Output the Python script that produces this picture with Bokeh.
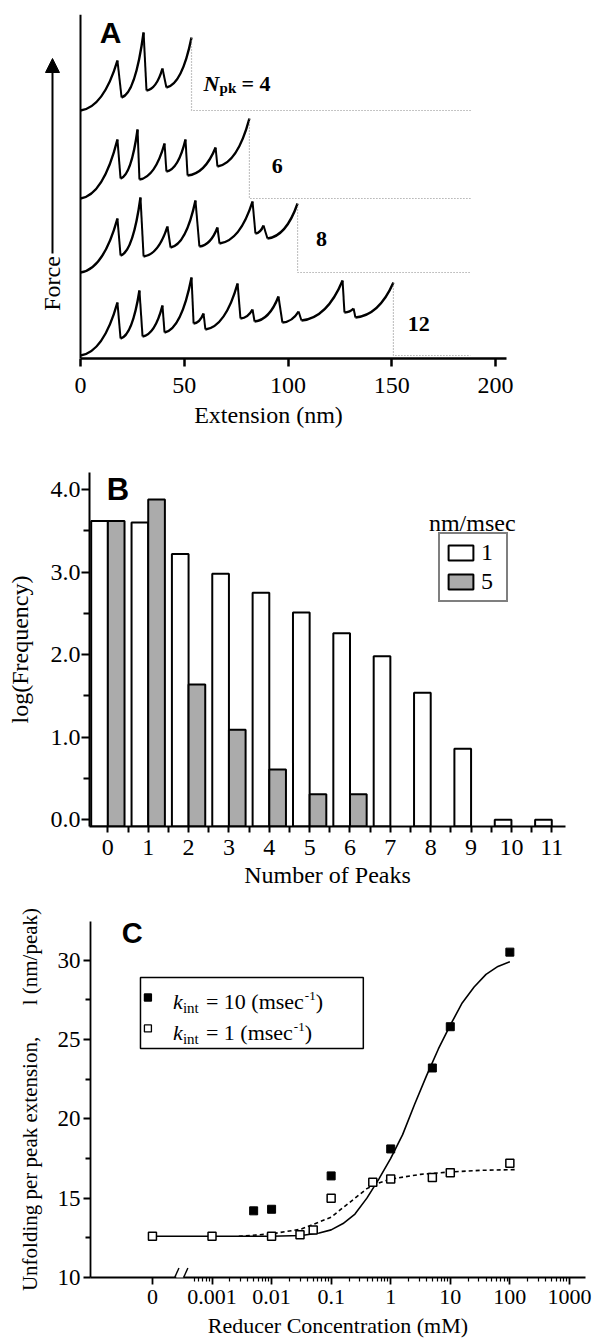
import math
from bokeh.plotting import figure
from bokeh.models import (Range1d, FixedTicker, NumeralTickFormatter, Arrow, Span,
                          NormalHead, BoxAnnotation, Legend, LegendItem)
from bokeh.core.properties import value
from bokeh.embed import file_html
from bokeh.resources import INLINE

# ---------------- Panel A data: force-extension traces ----------------
EXT_TICKS = [0, 50, 100, 150, 200]
NPK_LABELS = ["4", "6", "8", "12"]
# vertices: start, peak1, trough1, peak2, trough2, ..., end   (nm, force a.u.)
TRACE4_X = [0, 17.8, 19.8, 30.4, 31.8, 39.5, 41.4, 53.5]
TRACE4_Y = [248, 298, 261, 326, 268, 290, 271, 321]
TRACE6_X = [0, 17.8, 19.3, 27.5, 28.4, 40.5, 41.4, 50.6, 51.6, 65.1, 66.0, 81.4]
TRACE6_Y = [160, 219, 180, 229, 179, 215, 187, 219, 183, 211, 192, 240]
TRACE8_X = [0, 17.8, 19.3, 28.9, 30.4, 41.9, 43.4, 55.4, 57.3, 66.0, 67.0, 82.9, 84.3, 88.2, 90.1, 104.6]
TRACE8_Y = [86, 140, 103, 161, 102, 132, 111, 158, 112, 131, 115, 157, 125, 133, 120, 155]
TRACE12_X = [0, 17.8, 19.3, 28.4, 29.9, 39.5, 40.5, 53.5, 54.5, 59.3, 60.2, 75.7, 77.1, 82.9,
             83.9, 95.4, 97.3, 105.1, 106.5, 126.3, 127.2, 131.6, 132.5, 150.8]
TRACE12_Y = [3, 56, 20, 68, 22, 53, 26, 81, 35, 45, 29, 75, 40, 49, 37, 62, 36, 47, 38, 78,
             46, 50, 41, 76]

# ---------------- Panel B data: histogram ----------------
PEAK_COUNTS = list(range(12))
LOGF_SPEED1 = [3.62, 3.60, 3.22, 2.98, 2.75, 2.51, 2.26, 1.98, 1.54, 0.86, 0.0, 0.0]
LOGF_SPEED5 = [3.62, 3.88, 1.64, 1.09, 0.61, 0.31, 0.31]
SPEED_LABELS = ["1", "5"]

# ---------------- Panel C data ----------------
CONC_FAST = [0.005, 0.01, 0.1, 1, 5, 10, 100]
L_FAST = [14.2, 14.3, 16.4, 18.1, 23.2, 25.8, 30.5]
CONC_SLOW = [0, 0.001, 0.01, 0.03, 0.05, 0.1, 0.5, 1, 5, 10, 100]
L_SLOW = [12.6, 12.6, 12.6, 12.7, 13.0, 15.0, 16.0, 16.2, 16.3, 16.6, 17.2]
FIT_FAST_LOGC = [-4, -3, -2, -1.5, -1.2, -1.0, -0.8, -0.6, -0.4, -0.2, 0.0, 0.2, 0.4, 0.6,
                 0.8, 1.0, 1.2, 1.4, 1.6, 1.8, 2.0]
FIT_FAST_L = [12.6, 12.6, 12.6, 12.65, 12.8, 13.0, 13.4, 14.0, 15.0, 16.2, 17.5, 19.0, 20.9,
              22.7, 24.4, 25.9, 27.3, 28.3, 29.1, 29.6, 29.9]
FIT_SLOW_LOGC = [-2.55, -2.0, -1.5, -1.0, -0.7, -0.4, -0.2, 0.0, 0.5, 1.0, 1.5, 2.1]
FIT_SLOW_L = [12.6, 12.75, 13.05, 13.8, 14.7, 15.6, 15.95, 16.2, 16.5, 16.65, 16.75, 16.8]
CONC_TICKS = [-4, -3, -2, -1, 0, 1, 2, 3]
CONC_TICK_LABELS = ["0", "0.001", "0.01", "0.1", "1", "10", "100", "1000"]
K_INT = ["10", "1"]
L_TICKS = [10, 15, 20, 25, 30]

ZERO_POS = -4  # axis position where concentration 0 is drawn

SERIF = "Liberation Serif"
SANS = "Liberation Sans"

TIMES = {"=": 0.564, " ": 0.25, "1": 0.5, "0": 0.5, "(": 0.333, ")": 0.333, "m": 0.778,
         "s": 0.389, "e": 0.444, "c": 0.444, "-": 0.333}


def tw(s, size):
    return sum(TIMES.get(ch, 0.5) for ch in s) * size


def clean(p):
    p.xgrid.visible = False
    p.ygrid.visible = False
    p.outline_line_color = None
    p.background_fill_color = "white"
    p.border_fill_color = "white"


def style_axis(ax, size, lw=2):
    ax.axis_line_color = "black"
    ax.major_tick_line_color = "black"
    ax.minor_tick_line_color = "black"
    ax.axis_line_width = lw
    ax.major_tick_line_width = lw
    ax.minor_tick_line_width = lw
    ax.major_tick_in = 0
    ax.minor_tick_in = 0
    ax.major_label_text_color = "black"
    ax.axis_label_text_color = "black"
    ax.major_label_text_font = SERIF
    ax.axis_label_text_font = SERIF
    ax.axis_label_text_font_style = "normal"
    ax.major_label_text_font_size = size
    ax.axis_label_text_font_size = size


def txt(p, x, y, s, size, font=SERIF, style="normal", align="left", baseline="alphabetic",
        angle=0.0, x_offset=0):
    p.text(x=[x], y=[y], text=[s], text_font=value(font), text_font_size=size,
           text_font_style=style, text_align=align, text_baseline=baseline,
           text_color="black", angle=angle, x_offset=x_offset)


# =============================== Panel A ===============================
pA = figure(frame_width=476, frame_height=344, x_range=Range1d(-24.1, 205.3), y_range=Range1d(0, 344),
            output_backend="svg", toolbar_location=None,
            min_border_left=30, min_border_right=94, min_border_top=14, min_border_bottom=80)
clean(pA)
style_axis(pA.xaxis, "24px", lw=2.5)
pA.xaxis.ticker = FixedTicker(ticks=EXT_TICKS, minor_ticks=[])
pA.xaxis.bounds = (0, 205.3)
pA.xaxis.axis_label = "Extension (nm)"
pA.xaxis.major_tick_out = 8
pA.xaxis.major_label_standoff = 11
pA.xaxis.axis_label_standoff = 6
pA.yaxis.visible = False
pA.add_layout(Span(location=0, dimension="height", line_color="black", line_width=2))

DOT_RIGHT = 188
TRACES = [(TRACE4_X, TRACE4_Y), (TRACE6_X, TRACE6_Y), (TRACE8_X, TRACE8_Y), (TRACE12_X, TRACE12_Y)]
for xs, ys in TRACES:
    x0, y0 = xs[0::2], ys[0::2]
    x1, y1 = xs[1::2], ys[1::2]
    cx = [a + 0.62 * (b - a) for a, b in zip(x0, x1)]
    cy = [a + 0.06 * (b - a) for a, b in zip(y0, y1)]
    pA.quadratic(x0=x0, y0=y0, x1=x1, y1=y1, cx=cx, cy=cy, line_color="black", line_width=2.4)
    pA.segment(x0=x1[:-1], y0=y1[:-1], x1=x0[1:], y1=y0[1:], line_color="black", line_width=2)
    pA.line(x=[xs[-1], xs[-1], DOT_RIGHT], y=[ys[-1], ys[0], ys[0]],
            line_color="#8a8a8a", line_width=1.2, line_dash="1 2")

# N_pk = 4 label
NX, NBASE = 59.3, 275.5
txt(pA, NX, NBASE, "N", "22px", style="bold italic")
txt(pA, NX, NBASE - 5, "pk", "15px", style="bold", x_offset=16)
txt(pA, NX, NBASE, "= " + NPK_LABELS[0], "22px", style="bold", x_offset=38)
NPK_POS_X = [94.8, 116.2, 163.0]
NPK_POS_Y = [193, 120, 34.5]
pA.text(x=NPK_POS_X, y=NPK_POS_Y, text=NPK_LABELS[1:], text_font=value(SERIF), text_font_size="22px",
        text_font_style="bold", text_align="center", text_baseline="middle", text_color="black")
txt(pA, 14.5, 326, "A", "30px", font=SANS, style="bold", align="center", baseline="middle")
pA.add_layout(Arrow(end=NormalHead(size=14, fill_color="black", line_color="black"),
                    x_start=-13.5, y_start=105, x_end=-13.5, y_end=300,
                    line_color="black", line_width=2))
txt(pA, -13.5, 75, "Force", "24px", align="center", baseline="middle", angle=math.pi / 2)

# =============================== Panel B ===============================
Y_FLOOR = -0.081
pB = figure(frame_width=476, frame_height=354, x_range=Range1d(-0.455, 11.34), y_range=Range1d(Y_FLOOR, 4.206),
            output_backend="svg", toolbar_location=None,
            min_border_left=89, min_border_right=35, min_border_top=34, min_border_bottom=72)
clean(pB)
style_axis(pB.xaxis, "24px", lw=2)
style_axis(pB.yaxis, "24px", lw=2)
pB.xaxis.ticker = FixedTicker(ticks=PEAK_COUNTS, minor_ticks=[i + 0.5 for i in PEAK_COUNTS[:-1]])
pB.xaxis.major_tick_out = 6
pB.xaxis.minor_tick_out = 6
pB.xaxis.major_label_standoff = 7
pB.xaxis.axis_label_standoff = 4
pB.xaxis.axis_label = "Number of Peaks"
pB.yaxis.ticker = FixedTicker(ticks=[0, 1, 2, 3, 4], minor_ticks=[0.5, 1.5, 2.5, 3.5])
pB.yaxis.formatter = NumeralTickFormatter(format="0.0")
pB.yaxis.major_tick_out = 8
pB.yaxis.minor_tick_out = 6
pB.yaxis.major_label_standoff = 1
pB.yaxis.axis_label_standoff = 15
pB.yaxis.axis_label = "log(Frequency)"

BAR_W = 0.413
r1 = pB.vbar(x=[i - BAR_W / 2 for i in PEAK_COUNTS], top=LOGF_SPEED1, bottom=Y_FLOOR, width=BAR_W,
             fill_color="white", line_color="black", line_width=2)
r5 = pB.vbar(x=[i + BAR_W / 2 for i in PEAK_COUNTS[:len(LOGF_SPEED5)]], top=LOGF_SPEED5, bottom=Y_FLOOR,
             width=BAR_W, fill_color="#ababab", line_color="black", line_width=2)
legB = Legend(items=[LegendItem(label=SPEED_LABELS[0], renderers=[r1]),
                     LegendItem(label=SPEED_LABELS[1], renderers=[r5])],
              location=(349, 224), orientation="vertical",
              border_line_color="black", border_line_width=2, background_fill_color="white",
              background_fill_alpha=1, padding=5, spacing=2, margin=0, glyph_width=31, glyph_height=19,
              label_standoff=5, label_text_font=SERIF, label_text_font_size="24px",
              label_text_color="black", label_height=24)
pB.add_layout(legB)
txt(pB, 9.03, 3.6, "nm/msec", "24px", align="center", baseline="middle")
txt(pB, 0.25, 4.0, "B", "31px", font=SANS, style="bold", align="center", baseline="middle")

# =============================== Panel C ===============================
pC = figure(frame_width=495, frame_height=356, x_range=Range1d(-5.04, 3.27), y_range=Range1d(10, 32.43),
            output_backend="svg", toolbar_location=None,
            min_border_left=90, min_border_right=15, min_border_top=23, min_border_bottom=64)
clean(pC)
style_axis(pC.xaxis, "22px", lw=1.8)
style_axis(pC.yaxis, "23px", lw=1.8)
pC.yaxis.axis_label_text_font_size = "21px"
minor_c = [math.log10(k * 10 ** n) for n in range(-4, 3) for k in range(2, 10)
           if math.log10(k * 10 ** n) > -3.35]
pC.xaxis.ticker = FixedTicker(ticks=CONC_TICKS, minor_ticks=minor_c)
pC.xaxis.major_label_overrides = {t: lab for t, lab in zip(CONC_TICKS, CONC_TICK_LABELS)}
pC.xaxis.major_tick_out = 7
pC.xaxis.minor_tick_out = 4
pC.xaxis.minor_tick_line_width = 1.2
pC.xaxis.major_label_standoff = 5
pC.xaxis.axis_label_standoff = 6
pC.xaxis.axis_label = "Reducer Concentration (mM)"
pC.yaxis.ticker = FixedTicker(ticks=L_TICKS, minor_ticks=[12.5, 17.5, 22.5, 27.5])
pC.yaxis.major_tick_out = 7
pC.yaxis.minor_tick_out = 5
pC.yaxis.major_label_standoff = 3
pC.yaxis.axis_label_standoff = 13
pC.yaxis.axis_label = "Unfolding per peak extension," + "\u00a0" * 6 + "l (nm/peak)"


def cpos(c):
    return math.log10(c) if c > 0 else ZERO_POS


pC.line(FIT_FAST_LOGC, FIT_FAST_L, line_color="black", line_width=1.6)
pC.line(FIT_SLOW_LOGC, FIT_SLOW_L, line_color="black", line_width=1.6, line_dash="4 3")
pC.scatter([cpos(c) for c in CONC_FAST], L_FAST, marker="square", size=8,
           fill_color="black", line_color="black")
pC.scatter([cpos(c) for c in CONC_SLOW], L_SLOW, marker="square", size=8,
           fill_color="white", line_color="black", line_width=1.5)

# axis break
pC.add_layout(Arrow(end=None, x_start=-3.6, y_start=10, x_end=-3.48, y_end=10,
                    line_color="white", line_width=5))
for bx in [-3.615, -3.465]:
    pC.add_layout(Arrow(end=None, x_start=bx - 0.06, y_start=9.6, x_end=bx + 0.06, y_end=10.6,
                        line_color="black", line_width=1.4))

# legend box (manual for rich text)
pC.add_layout(BoxAnnotation(left=-4.201, right=-0.46, bottom=24.43, top=28.90, fill_alpha=0,
                            line_color="black", line_width=1.5, line_alpha=1))
LEG_X = -4.076
ROW_Y = [27.64, 25.69]
ROW_FILL = ["black", "white"]
pC.scatter([LEG_X, LEG_X], ROW_Y, marker="square", size=7, fill_color=ROW_FILL,
           line_color="black", line_width=1.3)
for ry, kval in zip(ROW_Y, K_INT):
    base = ry - 0.25
    main = "= " + kval + " (msec"
    txt(pC, LEG_X, base, "k", "22px", style="italic", x_offset=25)
    txt(pC, LEG_X, base - 0.44, "int", "15px", x_offset=35)
    txt(pC, LEG_X, base, main, "22px", x_offset=58)
    xo = 58 + tw(main, 22)
    txt(pC, LEG_X, base + 0.32, "-1", "13px", x_offset=xo + 1)
    txt(pC, LEG_X, base, ")", "22px", x_offset=xo + 1 + tw("-1", 13))

txt(pC, -4.34, 31.68, "C", "29px", font=SANS, style="bold", align="center", baseline="middle")

open("out.html", "w").write(file_html([pA, pB, pC], INLINE))
